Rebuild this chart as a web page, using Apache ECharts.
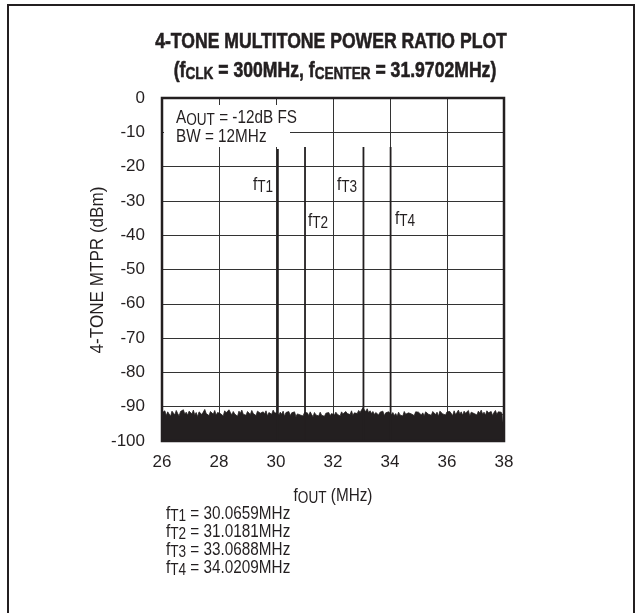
<!DOCTYPE html>
<html><head><meta charset="utf-8">
<script src="https://cdn.jsdelivr.net/npm/echarts@6/dist/echarts.min.js"></script>
<style>html,body{margin:0;padding:0;background:#fff}#c{width:642px;height:613px}</style>
</head><body><div id="c"></div>
<script>
const xTicks = [26, 28, 30, 32, 34, 36, 38];
const yTicks = [0, -10, -20, -30, -40, -50, -60, -70, -80, -90, -100];
const toneNames = ['T1', 'T2', 'T3', 'T4'];
const toneFreq = [30.0659, 31.0181, 33.0688, 34.0209];
const tonePeak = [-14.9, -14.3, -14.3, -14.3];
const noiseStart = 26;
const noiseStep = 0.05;
const noiseValues = [
-91.8,-92.3,-91.2,-92.6,-91.5,-91.9,-92.8,-91.3,-91.7,-92.4,-91.1,-92.0,-92.7,-91.4,-91.9,-90.9,-92.2,-91.6,-92.5,-91.3,-91.8,
-92.1,-91.0,-92.4,-91.7,-92.9,-91.5,-91.2,-92.3,-91.8,-90.8,-92.0,-91.6,-92.6,-91.4,-91.9,-92.2,-91.1,-92.5,-91.7,-91.3,
-92.0,-91.5,-92.7,-91.2,-91.8,-92.3,-90.9,-91.7,-92.4,-91.4,-92.1,-91.6,-92.8,-91.3,-91.9,-91.0,-92.2,-91.7,-92.5,-91.4,
-91.8,-92.3,-91.1,-92.0,-91.6,-92.6,-91.3,-90.8,-91.9,-92.4,-91.5,-92.1,-91.2,-92.7,-91.7,-91.4,-92.2,-91.0,-91.8,-91.5,
-91.9,-92.5,-91.6,-92.2,-91.3,-92.8,-91.7,-92.0,-91.4,-92.6,-91.8,-92.3,-91.5,-92.9,-92.1,-91.6,-92.4,-91.9,-92.7,-91.7,
-92.2,-91.8,-92.6,-91.5,-92.3,-92.9,-91.7,-92.4,-92.0,-92.7,-91.6,-92.5,-92.1,-92.8,-91.9,-92.3,-91.7,-92.6,-92.0,-91.8,
-92.4,-91.6,-92.2,-91.9,-92.7,-91.5,-92.1,-92.5,-91.4,-92.0,-91.7,-92.3,-91.2,-92.6,-91.8,-91.3,-92.0,-91.1,-91.7,-91.4,
-90.3,-90.9,-91.5,-90.6,-91.8,-91.2,-92.0,-91.4,-92.3,-91.7,-91.9,-92.4,-91.6,-92.1,-91.3,-92.6,-91.8,-92.2,-91.5,-91.9,
-92.3,-91.7,-92.6,-92.0,-92.8,-91.6,-92.4,-91.9,-92.7,-91.4,-92.2,-92.5,-91.8,-91.3,-92.1,-91.7,-92.6,-91.5,-92.0,-91.6,
-91.2,-92.4,-91.8,-92.7,-91.5,-91.1,-92.2,-91.7,-92.5,-91.4,-91.9,-92.3,-91.6,-92.8,-91.3,-91.0,-92.1,-91.7,-92.4,-91.5,
-92.0,-91.4,-91.8,-92.6,-91.2,-92.3,-91.7,-91.0,-92.1,-91.5,-92.5,-91.3,-91.9,-92.2,-91.1,-92.7,-91.6,-91.4,-92.0,-91.8,
-92.4,-91.3,-91.9,-91.0,-92.2,-91.6,-92.5,-91.2,-91.8,-92.1,-91.4,-92.6,-91.7,-91.1,-92.3,-91.5,-92.0,-91.6,-92.4,-91.9
];
const titleLine1 = '4-TONE MULTITONE POWER RATIO PLOT';
const annotation = ['-12dB FS', 'BW = 12MHz'];

const INK = '#231f20';
const FF = "'Liberation Sans',Arial,sans-serif";
const SX = 0.85;

const noiseData = noiseValues.map((v, i) => [noiseStart + i * noiseStep, v]);

const richBase = {
  m: {fontSize: 18, fontFamily: FF, fill: INK, verticalAlign: 'top'},
  s: {fontSize: 16, fontFamily: FF, fill: INK, verticalAlign: 'bottom', padding: [4, 0, 0, 0]},
  b: {fontSize: 22, fontFamily: FF, fontWeight: 'bold', fill: INK, stroke: INK, lineWidth: 0.6, verticalAlign: 'top'},
  bs: {fontSize: 17, fontFamily: FF, fontWeight: 'bold', fill: INK, verticalAlign: 'bottom', padding: [6, 0, 0, 0], stroke: INK, lineWidth: 0.5}
};

function rtext(x, y, text, align, extra) {
  return Object.assign({
    type: 'text', x: x, y: y, z: 100, scaleX: SX,
    style: {text: text, rich: richBase, align: align || 'left', verticalAlign: 'middle', fill: INK, font: '18px ' + FF}
  }, extra || {});
}

const series = [{
  type: 'line', data: noiseData, symbol: 'none', z: 3,
  lineStyle: {color: INK, width: 0.8},
  areaStyle: {color: INK, opacity: 1, origin: 'start'},
  animation: false
}];
toneFreq.forEach((f, i) => {
  series.push({
    type: 'line', data: [[f, -100], [f, tonePeak[i]]], symbol: 'none', z: 5,
    lineStyle: {color: INK, width: 1.8}, animation: false
  });
});

const tonePix = [[263, 186], [318, 222], [347, 186], [405, 220]];
const graphics = [
  {type: 'rect', z: 90, shape: {x: 8, y: 5, width: 626, height: 700}, style: {fill: 'none', stroke: INK, lineWidth: 2}},
  {type: 'rect', z: 95, shape: {x: 164, y: 105, width: 126, height: 42}, style: {fill: '#fff'}},
  rtext(331, 42, '{b|' + titleLine1 + '}', 'center', {scaleX: 0.8}),
  rtext(335, 71, '{b|(f}{bs|CLK}{b| = 300MHz, f}{bs|CENTER}{b| = 31.9702MHz)}', 'center', {scaleX: 0.8}),
  rtext(176, 119, '{m|A}{s|OUT}{m| = ' + annotation[0] + '}', 'left'),
  rtext(176, 137, '{m|' + annotation[1] + '}', 'left'),
  rtext(333, 497, '{m|f}{s|OUT}{m| (MHz)}', 'center'),
  rtext(98, 270, '{m|4-TONE MTPR (dBm)}', 'center', {rotation: Math.PI / 2, scaleX: 0.95})
];
toneNames.forEach((n, i) => {
  graphics.push(rtext(tonePix[i][0], tonePix[i][1], '{m|f}{s|' + n + '}', 'center'));
  graphics.push(rtext(166, 515 + i * 18, '{m|f}{s|' + n + '}{m| = ' + toneFreq[i].toFixed(4) + 'MHz}', 'left'));
});

const chart = echarts.init(document.getElementById('c'), null, {renderer: 'canvas'});
chart.setOption({
  backgroundColor: '#fff',
  animation: false,
  grid: {left: 162, top: 98, width: 342, height: 343, show: true, borderColor: INK, borderWidth: 2.5, backgroundColor: 'transparent', z: 10},
  xAxis: {
    type: 'value', min: xTicks[0], max: xTicks[xTicks.length - 1], interval: 2,
    axisLine: {show: false}, axisTick: {show: false},
    axisLabel: {fontSize: 17, fontFamily: FF, color: INK, margin: 13, formatter: v => String(v)},
    splitLine: {show: true, lineStyle: {color: '#333', width: 1}}
  },
  yAxis: {
    type: 'value', min: yTicks[yTicks.length - 1], max: yTicks[0], interval: 10,
    axisLine: {show: false}, axisTick: {show: false},
    axisLabel: {fontSize: 17, fontFamily: FF, color: INK, margin: 17, formatter: v => String(v)},
    splitLine: {show: true, lineStyle: {color: '#333', width: 1}}
  },
  series: series,
  graphic: graphics
});
</script></body></html>
